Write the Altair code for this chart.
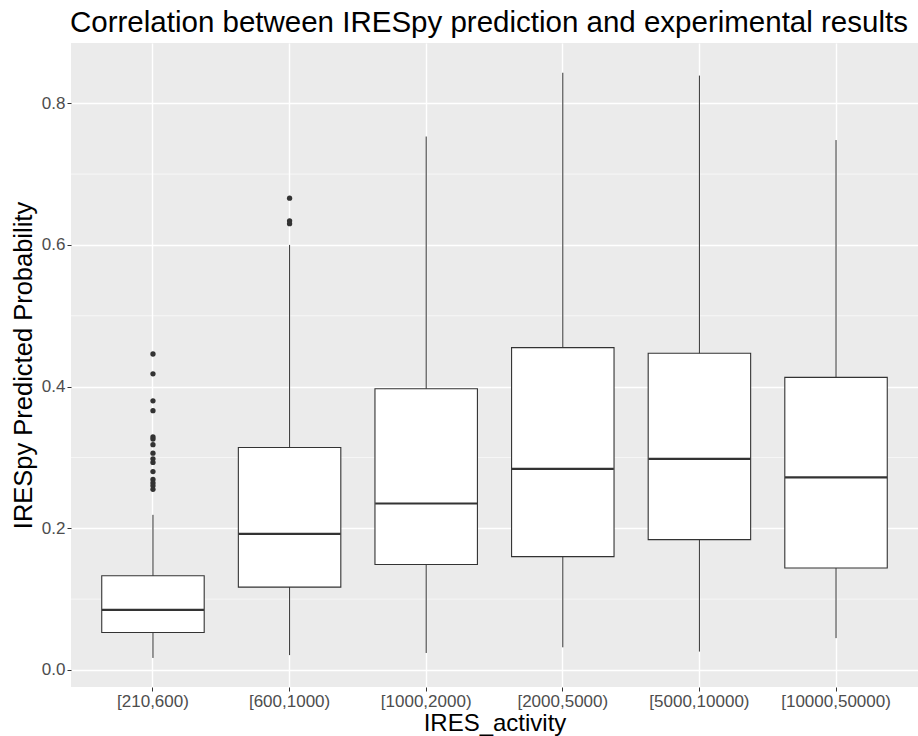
import altair as alt
import pandas as pd

categories = ["[210,600)", "[600,1000)", "[1000,2000)", "[2000,5000)", "[5000,10000)", "[10000,50000)"]
lower = [0.017, 0.021, 0.024, 0.032, 0.026, 0.045]
q1 = [0.053, 0.117, 0.149, 0.160, 0.184, 0.144]
median = [0.085, 0.192, 0.235, 0.284, 0.298, 0.272]
q3 = [0.133, 0.314, 0.397, 0.455, 0.447, 0.413]
upper = [0.219, 0.600, 0.753, 0.843, 0.839, 0.748]

outlier_cat = ["[210,600)"] * 15 + ["[600,1000)"] * 3
outlier_val = [0.446, 0.418, 0.380, 0.366, 0.329, 0.326, 0.318, 0.306, 0.298,
               0.293, 0.280, 0.269, 0.264, 0.260, 0.255,
               0.666, 0.634, 0.630]

major_breaks = [0.0, 0.2, 0.4, 0.6, 0.8]
minor_breaks = [0.1, 0.3, 0.5, 0.7]

box_df = pd.DataFrame({"cat": categories, "lower": lower, "q1": q1,
                       "median": median, "q3": q3, "upper": upper})
out_df = pd.DataFrame({"cat": outlier_cat, "val": outlier_val})
minor_df = pd.DataFrame({"val": minor_breaks})

FONT = "Liberation Sans"
DARK = "#333333"

xscale = alt.Scale(domain=categories, paddingInner=0, paddingOuter=0.1)
yscale = alt.Scale(domain=[-0.024, 0.885], nice=False, zero=False)

xaxis = alt.Axis(title="IRES_activity", bandPosition=0.5, grid=True, labelAngle=0)
yaxis = alt.Axis(title="IRESpy Predicted Probability", values=major_breaks, format=".1f", grid=True)

X = alt.X("cat:N", scale=xscale, axis=xaxis, sort=categories)


def Y(field):
    return alt.Y(field, type="quantitative", scale=yscale, axis=yaxis)


minor = alt.Chart(minor_df).mark_rule(color="white", strokeWidth=0.6).encode(y=Y("val"))

whisk = alt.Chart(box_df).mark_rule(color=DARK, strokeWidth=1).encode(
    x=X, y=Y("lower"), y2="upper")

box = alt.Chart(box_df).mark_bar(width={"band": 0.75}, fill="white", stroke=DARK,
                                 strokeWidth=1.1, cornerRadius=0).encode(
    x=X, y=Y("q1"), y2="q3")

med = alt.Chart(box_df).mark_tick(color=DARK, thickness=2.2, size=102, opacity=1).encode(
    x=X, y=Y("median"))

outl = alt.Chart(out_df).mark_circle(size=28, color=DARK, opacity=1).encode(
    x=X, y=Y("val"))

chart = alt.layer(minor, whisk, box, med, outl).properties(
    width=847, height=644,
    title=alt.TitleParams(
        "Correlation between IRESpy prediction and experimental results",
        anchor="start", frame="group", fontSize=29.5, font=FONT, fontWeight="normal",
        color="black", offset=5, dx=-1),
    autosize=alt.AutoSizeParams(type="none"),
    padding={"left": 71, "top": 43, "right": 0, "bottom": 49},
    background="white",
).configure_view(fill="#EBEBEB", stroke=None).configure_axis(
    domain=False,
    gridColor="white", gridWidth=1.4,
    tickColor=DARK, tickSize=4, tickWidth=1,
    labelColor="#4D4D4D", labelFont=FONT, labelFontSize=17,
    titleFont=FONT, titleFontSize=24, titleFontWeight="normal", titleColor="black",
).configure_axisX(labelPadding=2, titlePadding=2).configure_axisY(
    labelPadding=2, titlePadding=5, titleFontSize=25.5)

chart.save("out.html", embed_options={"renderer": "svg", "actions": False})
